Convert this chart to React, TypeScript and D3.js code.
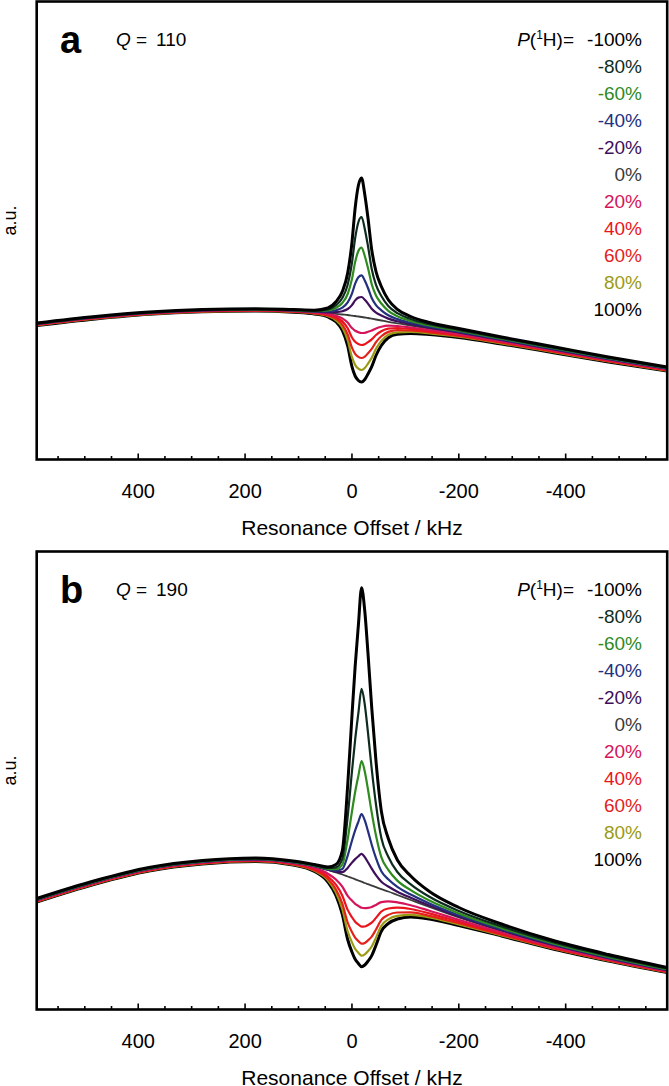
import React from "react";
import * as d3 from "d3";

// x grid (Resonance offset, kHz)
const kHz = [590, 480, 380, 280, 180, 110, 70, 45, 30, 18, 8, 0, -6, -12, -18, -24, -30, -37, -45, -55, -68, -85, -110, -145, -200, -280, -380, -480, -590];

const majorTicks = [400, 200, 0, -200, -400];
const minorTicks = [550, 500, 450, 350, 300, 250, 150, 100, 50, -50, -100, -150, -250, -300, -350, -450, -500, -550];

const legendLabels = ["-100%", "-80%", "-60%", "-40%", "-20%", "0%", "20%", "40%", "60%", "80%", "100%"];
const seriesColors = ["#000000", "#0e2c1e", "#2f8a1f", "#23317f", "#3e0f5b", "#3b3b3b", "#d4155a", "#ea141c", "#e3231b", "#9b9a14", "#000000"];
const seriesWidths = [3, 2.2, 2.2, 2.2, 2.2, 1.8, 2.2, 2.2, 2.2, 2.2, 3];

// Panel a (Q = 110), signal in a.u.
const aNeg100 = [137, 143.5, 148, 150.5, 151.2, 150.4, 149.8, 152, 158.2, 168.5, 187, 217.4, 252, 274.5, 282, 265.5, 242, 210.3, 188.5, 173.5, 160.2, 150.7, 143.5, 137.5, 131.5, 123, 113, 103, 93];
const aNeg80 = [136.7, 143.2, 147.7, 150.2, 150.9, 150.1, 149.3, 150.6, 154.8, 162.1, 175.2, 197, 221.8, 237.8, 243, 231.1, 214, 191, 175.1, 164, 154, 146.8, 141, 135.8, 130.2, 122, 112.2, 102.3, 92.4];
const aNeg60 = [136.5, 143, 147.5, 150, 150.7, 149.8, 148.9, 149.5, 152.2, 157, 166, 180.9, 198, 209, 212.5, 204, 192, 175.8, 164.5, 156.5, 149.2, 143.7, 139, 134.5, 129.3, 121.3, 111.5, 101.8, 92];
const aNeg40 = [136.3, 142.8, 147.3, 149.8, 150.5, 149.6, 148.5, 148.5, 149.8, 152.4, 157.6, 166.3, 176.4, 182.8, 184.7, 179.4, 172, 162, 154.9, 149.7, 144.8, 140.9, 137.2, 133.3, 128.4, 120.6, 110.9, 101.3, 91.6];
const aNeg20 = [136.1, 142.6, 147.1, 149.6, 150.3, 149.4, 148.3, 147.7, 147.9, 148.8, 151, 154.9, 159.6, 162.4, 163, 160.2, 156.4, 151.2, 147.4, 144.4, 141.4, 138.7, 135.8, 132.4, 127.6, 120, 110.4, 100.9, 91.3];
const aZero = [136, 142.5, 147, 149.5, 150.2, 149.2, 148, 147, 146.2, 145.5, 145, 144.4, 144, 143.5, 143, 142.5, 142, 141.3, 140.5, 139.5, 138.2, 136.7, 134.5, 131.5, 127, 119.5, 110, 100.5, 91];
const aPos20 = [135.6, 142.1, 146.7, 149.2, 149.9, 148.8, 147.5, 146, 144.2, 141.6, 137.4, 131.9, 129.2, 127.8, 127, 127.2, 128.2, 129.5, 131.6, 133.3, 134.3, 134, 132.5, 130, 125.9, 118.6, 109.3, 99.9, 90.5];
const aPos40 = [135.4, 141.9, 146.4, 148.9, 149.6, 148.6, 147.1, 145.3, 142.8, 138.6, 131.7, 122.5, 118.2, 116, 115, 115.8, 117.9, 120.7, 125, 128.7, 131.3, 132, 131.1, 128.9, 125.1, 118, 108.7, 99.4, 90.1];
const aPos60 = [135.1, 141.6, 146.2, 148.7, 149.4, 148.3, 146.7, 144.5, 141.2, 135.4, 125.5, 112.3, 106.2, 103.2, 102, 103.4, 106.7, 111.1, 117.8, 123.7, 128.1, 129.8, 129.5, 127.7, 124.2, 117.3, 108.1, 98.9, 89.7];
const aPos80 = [134.8, 141.3, 145.9, 148.4, 149.1, 148, 146.4, 143.7, 139.7, 132.5, 119.7, 102.8, 95.1, 91.3, 90, 92, 96.4, 102.2, 111.2, 119.1, 125.2, 127.7, 128, 126.6, 123.3, 116.6, 107.6, 98.5, 89.4];
const aPos100 = [134.5, 141, 145.7, 148.2, 148.9, 147.7, 146, 143, 138.2, 129.5, 114, 93.4, 84, 79.5, 78, 80.5, 86, 93.3, 104.5, 114.5, 122.2, 125.7, 126.5, 125.5, 122.5, 116, 107, 98, 89];

// Panel b (Q = 190), signal in a.u.
const bNeg100 = [111.5, 129.5, 142.5, 149.5, 152, 149, 145.5, 143, 145.5, 159.5, 224.5, 294, 343.7, 384.5, 422.3, 399, 356.8, 302.4, 248.8, 198.8, 171.5, 150, 134, 118.5, 102.5, 86, 69, 55.5, 42.5];
const bNeg80 = [111, 129, 142, 149, 151.5, 148.5, 144.8, 142, 142.7, 151.2, 193.2, 238.3, 270.4, 296.8, 321.2, 305.4, 277.3, 241.2, 205.5, 172, 153.3, 138, 125.7, 113.2, 99.1, 83.6, 67.3, 54.1, 41.5];
const bNeg60 = [110.6, 128.6, 141.6, 148.6, 151.1, 148.1, 144.3, 141.2, 140.8, 145.3, 170.8, 198.4, 218, 234.1, 248.8, 238.5, 220.5, 197.4, 174.5, 152.8, 140.2, 129.4, 119.8, 109.4, 96.6, 81.9, 66.1, 53.1, 40.7];
const bNeg40 = [110.3, 128.3, 141.3, 148.3, 150.8, 147.8, 144, 140.7, 139.3, 141, 154.4, 169.3, 179.7, 188.2, 195.9, 189.6, 178.9, 165.3, 151.8, 138.7, 130.7, 123.1, 115.5, 106.6, 94.8, 80.6, 65.2, 52.4, 40.2];
const bNeg20 = [110.1, 128.1, 141.1, 148.1, 150.6, 147.6, 143.7, 140.3, 138.3, 137.8, 142.1, 147.4, 150.9, 153.7, 156.2, 152.8, 147.7, 141.3, 134.8, 128.2, 123.5, 118.3, 112.3, 104.5, 93.5, 79.7, 64.5, 51.9, 39.8];
const bZero = [110, 128, 141, 148, 150.5, 147.5, 143.5, 140, 137.5, 135.5, 133.5, 132, 130.7, 129.5, 128.3, 127, 125.8, 124.4, 122.8, 120.8, 118.5, 115, 110, 103, 92.5, 79, 64, 51.5, 39.5];
const bPos20 = [109.4, 127.4, 140.4, 147.4, 149.9, 146.7, 142, 136.3, 130.5, 123.3, 114.2, 109.4, 106.2, 104.1, 102.3, 101.9, 102.2, 103, 105.1, 107.9, 108.7, 107.7, 104.8, 99.3, 90.1, 77.5, 62.9, 50.7, 38.9];
const bPos40 = [108.9, 126.9, 139.9, 146.9, 149.4, 146.2, 140.8, 133.6, 125.3, 114.3, 100.1, 92.8, 88.3, 85.5, 83.3, 83.5, 85, 87.3, 92.1, 98.5, 101.5, 102.3, 101, 96.6, 88.3, 76.3, 62.1, 50.2, 38.4];
const bPos60 = [108.5, 126.5, 139.5, 146.5, 149, 145.7, 139.8, 131.2, 120.7, 106.3, 87.5, 78, 72.3, 68.9, 66.3, 67.1, 69.6, 73.3, 80.5, 90.1, 95.1, 97.5, 97.6, 94.2, 86.7, 75.3, 61.4, 49.7, 38];
const bPos80 = [108.3, 126.3, 139.3, 146.3, 148.8, 145.3, 139.1, 129.6, 117.5, 100.7, 78.7, 67.6, 61.1, 57.3, 54.3, 55.7, 58.8, 63.5, 72.3, 84.3, 90.7, 94.1, 95.2, 92.6, 85.5, 74.6, 61, 49.3, 37.8];
const bPos100 = [108, 126, 139, 146, 148.5, 145, 138.5, 128, 114.5, 95.5, 70.5, 58, 50.7, 46.5, 43.3, 45, 48.8, 54.4, 64.8, 78.8, 86.5, 91, 93, 91, 84.5, 74, 60.5, 49, 37.5];

const panelASeries = [aNeg100, aNeg80, aNeg60, aNeg40, aNeg20, aZero, aPos20, aPos40, aPos60, aPos80, aPos100];
const panelBSeries = [bNeg100, bNeg80, bNeg60, bNeg40, bNeg20, bZero, bPos20, bPos40, bPos60, bPos80, bPos100];

const FONT = "'Liberation Sans', Arial, Helvetica, sans-serif";
const W = 669;
const H = 1086;
const X0 = 36.7;
const X1 = 667.2;

function Panel({ top, letter, q, series }: { top: number; letter: string; q: string; series: number[][] }) {
  const bottom = top + 458;
  const x = d3.scaleLinear().domain([590, -590]).range([X0, X1]);
  const y = d3.scaleLinear().domain([0, 460]).range([top + 458.5, top - 1.5]);
  const line = (vals: number[]) =>
    d3
      .line<number>()
      .x((_, i) => x(kHz[i]))
      .y((v) => y(v))
      .curve(d3.curveMonotoneX)(vals) || "";
  // draw order: 100% first, coloured curves, then -100% on top
  const order = [10, 5, 9, 8, 7, 6, 4, 3, 2, 1, 0];
  const legendX = 642;
  const legendY0 = top + 44.5;
  const rowH = 27;
  return (
    <g>
      <defs>
        <clipPath id={"clip" + letter}>
          <rect x={X0} y={top} width={X1 - X0} height={bottom - top} />
        </clipPath>
      </defs>
      <g clipPath={`url(#clip${letter})`}>
        {order.map((i) => (
          <path key={i} d={line(series[i])} fill="none" stroke={seriesColors[i]} strokeWidth={seriesWidths[i]} strokeLinejoin="round" />
        ))}
      </g>
      <rect x={X0} y={top} width={X1 - X0} height={bottom - top} fill="none" stroke="#000" strokeWidth={2.6} />
      {majorTicks.map((t) => (
        <line key={"M" + t} x1={x(t)} x2={x(t)} y1={bottom} y2={bottom - 6} stroke="#000" strokeWidth={1.6} />
      ))}
      {minorTicks.map((t) => (
        <line key={"m" + t} x1={x(t)} x2={x(t)} y1={bottom} y2={bottom - 3.5} stroke="#000" strokeWidth={1.6} />
      ))}
      {majorTicks.map((t) => (
        <text key={"L" + t} x={x(t)} y={bottom + 38} textAnchor="middle" fontSize={20} fontFamily={FONT} fill="#000">
          {t}
        </text>
      ))}
      <text x={(X0 + X1) / 2} y={bottom + 75} textAnchor="middle" fontSize={21} fontFamily={FONT} fill="#000">
        Resonance Offset / kHz
      </text>
      <text transform={`translate(16, ${top + 219}) rotate(-90)`} textAnchor="middle" fontSize={18} fontFamily={FONT} fill="#000">
        a.u.
      </text>
      <text x={60} y={top + 51} fontSize={38} fontWeight="bold" fontFamily={FONT} fill="#000">
        {letter}
      </text>
      <text x={116} y={top + 44.5} fontSize={19} fontFamily={FONT} fill="#000">
        <tspan fontStyle="italic">Q</tspan>
        <tspan x={136}>=</tspan>
        <tspan x={156}>{q}</tspan>
      </text>
      <text x={574} y={legendY0} textAnchor="end" fontSize={19} fontFamily={FONT} fill="#000">
        <tspan fontStyle="italic">P</tspan>
        <tspan>(</tspan>
        <tspan fontSize={12} dy={-7}>1</tspan>
        <tspan dy={7}>H)=</tspan>
      </text>
      {legendLabels.map((lab, i) => (
        <text key={lab} x={legendX} y={legendY0 + i * rowH} textAnchor="end" fontSize={19} fontFamily={FONT} fill={seriesColors[i]}>
          {lab}
        </text>
      ))}
    </g>
  );
}

export default function App() {
  return (
    <svg width={W} height={H} viewBox={`0 0 ${W} ${H}`} style={{ position: "absolute", left: 0, top: 0, background: "#fff" }}>
      <rect x={0} y={0} width={W} height={H} fill="#fff" />
      <Panel top={1.5} letter="a" q="110" series={panelASeries} />
      <Panel top={551.5} letter="b" q="190" series={panelBSeries} />
    </svg>
  );
}
